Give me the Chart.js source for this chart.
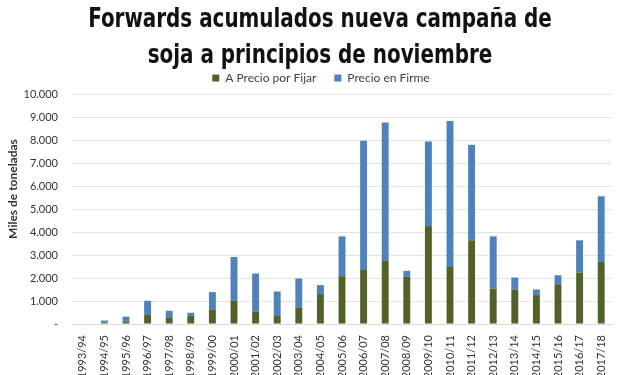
<!DOCTYPE html>
<html>
<head>
<meta charset="utf-8">
<script src="https://cdn.jsdelivr.net/npm/chart.js@4"></script>
<style>
  html, body { margin: 0; padding: 0; background: #fff; }
  #wrap { width: 620px; height: 375px; position: relative; }
  #title {
    position: absolute; left: 10px; top: 0; width: 620px;
    text-align: center; white-space: nowrap;
    font-family: 'DejaVu Sans Condensed', 'DejaVu Sans', sans-serif;
    font-stretch: condensed; font-weight: bold;
    font-size: 27px; line-height: 36px; color: #111;
    transform: scaleX(0.82); transform-origin: 50% 0;
    z-index: 2;
  }
</style>
</head>
<body>
<div id="wrap">
  <div id="title">Forwards acumulados nueva campaña de<br>soja a principios de noviembre</div>
  <canvas id="chart"></canvas>
</div>
<script>
const campaigns = ["1993/94", "1994/95", "1995/96", "1996/97", "1997/98", "1998/99", "1999/00",
  "2000/01", "2001/02", "2002/03", "2003/04", "2004/05", "2005/06", "2006/07", "2007/08",
  "2008/09", "2009/10", "2010/11", "2011/12", "2012/13", "2013/14", "2014/15", "2015/16",
  "2016/17", "2017/18"];

// miles de toneladas
const porFijar = [0, 60, 100, 390, 290, 345, 635, 1010, 535, 345, 720, 1300, 2080, 2380, 2770,
  2050, 4255, 2480, 3640, 1545, 1500, 1255, 1730, 2240, 2700];
const totales = [0, 150, 320, 1010, 575, 490, 1385, 2915, 2195, 1415, 1980, 1690, 3810, 7970, 8760,
  2310, 7935, 8830, 7790, 3810, 2020, 1500, 2120, 3640, 5555];
const enFirme = totales.map((t, i) => t - porFijar[i]);

const yTitle = "Miles de toneladas";
const font = "Lato, 'Open Sans', sans-serif";

// y axis title sits a bit above the middle of the axis in the original,
// and the legend is centred on the whole picture rather than the plot
const tweaks = {
  id: "tweaks",
  afterLayout(chart) {
    chart.legend.left += 15;
    chart.legend.right += 15;
  },
  afterDraw(chart) {
    const c = chart.ctx;
    c.save();
    c.translate(13, 189);
    c.rotate(-Math.PI / 2);
    c.font = "bold 12px " + font;
    c.fillStyle = "#333";
    c.textAlign = "center";
    c.textBaseline = "middle";
    c.fillText(yTitle, 0, 0);
    c.restore();
  }
};

const ctx = document.getElementById("chart");
new Chart(ctx, {
  type: "bar",
  data: {
    labels: campaigns,
    datasets: [
      {
        label: "A Precio por Fijar",
        data: porFijar,
        backgroundColor: "#4f6228",
        barPercentage: 0.32,
        categoryPercentage: 1
      },
      {
        label: "Precio en Firme",
        data: enFirme,
        backgroundColor: "#4f81bd",
        barPercentage: 0.32,
        categoryPercentage: 1
      }
    ]
  },
  options: {
    responsive: true,
    maintainAspectRatio: false,
    animation: false,
    layout: { padding: { left: 0, right: 8, top: 54, bottom: 0 } },
    plugins: {
      title: { display: false },
      legend: {
        position: "top",
        labels: {
          boxWidth: 7,
          boxHeight: 7,
          padding: 18,
          color: "#404040",
          font: { family: font, size: 12 }
        }
      },
      tooltip: { enabled: false }
    },
    scales: {
      x: {
        stacked: true,
        grid: { display: false },
        border: { color: "#d9d9d9" },
        ticks: {
          minRotation: 90,
          maxRotation: 90,
          autoSkip: false,
          color: "#333",
          font: { family: font, size: 11 }
        },
        afterFit: scale => { scale.height = 51; }
      },
      y: {
        stacked: true,
        min: 0,
        max: 10000,
        grid: { color: "#e3e3e3", drawTicks: false },
        border: { display: false },
        ticks: {
          stepSize: 1000,
          padding: 14,
          color: "#333",
          font: { family: font, size: 11 },
          callback: v => v === 0 ? "-" : v.toLocaleString("de-DE")
        },
        afterFit: scale => { scale.width = 72; }
      }
    }
  },
  plugins: [tweaks]
});
</script>
</body>
</html>
